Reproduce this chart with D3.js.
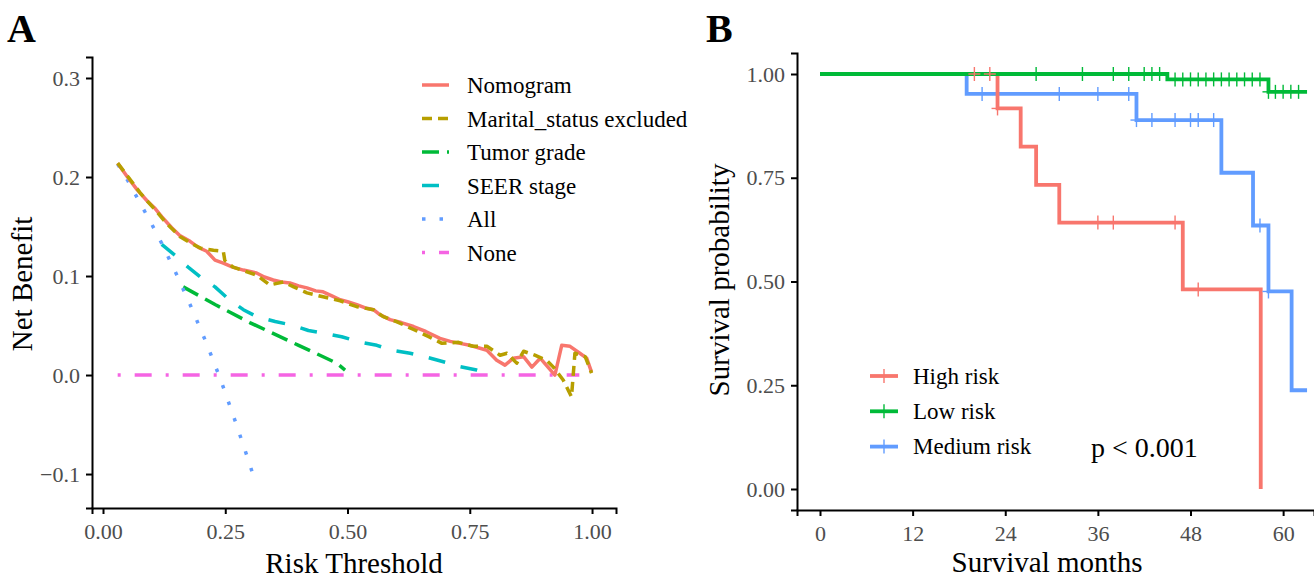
<!DOCTYPE html>
<html>
<head>
<meta charset="utf-8">
<script src="https://cdn.jsdelivr.net/npm/d3@7"></script>
<style>
  body { margin: 0; background: #fff; }
  svg { font-family: "Liberation Serif", "Times New Roman", serif; }
  .axis path, .axis line { stroke: #000; stroke-width: 2; }
  .axis text { fill: #4d4d4d; font-size: 22px; font-family: "Liberation Serif", serif; }
</style>
</head>
<body>
<svg width="1314" height="578"></svg>
<script>
// ---- panel A: decision curves (threshold, net benefit) ----
var nomogram = [[0.03,0.214],[0.05,0.200],[0.07,0.187],[0.09,0.176],[0.105,0.169],[0.11,0.166],[0.12,0.160],[0.14,0.149],
  [0.157,0.141],[0.178,0.135],[0.195,0.129],[0.212,0.125],[0.229,0.116],[0.246,0.113],[0.265,0.109],[0.287,0.106],
  [0.314,0.103],[0.33,0.099],[0.348,0.096],[0.365,0.094],[0.382,0.093],[0.40,0.090],[0.417,0.088],[0.435,0.085],
  [0.45,0.084],[0.468,0.080],[0.485,0.076],[0.50,0.074],[0.519,0.071],[0.535,0.068],[0.553,0.066],[0.566,0.061],
  [0.587,0.056],[0.61,0.053],[0.635,0.049],[0.66,0.044],[0.689,0.037],[0.71,0.034],[0.73,0.032],[0.75,0.030],
  [0.771,0.027],[0.785,0.025],[0.805,0.015],[0.822,0.010],[0.839,0.017],[0.86,0.0185],[0.877,0.008],[0.894,0.017],
  [0.924,0.0],[0.938,0.030],[0.955,0.029],[0.975,0.022],[0.989,0.017],[0.999,0.003]];
var maritalExcluded = [[0.03,0.214],[0.05,0.201],[0.076,0.184],[0.09,0.176],[0.11,0.165],[0.13,0.153],[0.157,0.140],
  [0.18,0.133],[0.2,0.128],[0.226,0.126],[0.246,0.125],[0.249,0.116],[0.266,0.109],[0.29,0.105],[0.314,0.101],
  [0.341,0.091],[0.369,0.094],[0.39,0.089],[0.417,0.083],[0.45,0.079],[0.485,0.075],[0.519,0.069],[0.553,0.066],
  [0.573,0.059],[0.6,0.054],[0.635,0.046],[0.665,0.039],[0.693,0.032],[0.727,0.033],[0.757,0.029],[0.785,0.029],
  [0.812,0.020],[0.826,0.022],[0.846,0.012],[0.86,0.024],[0.883,0.020],[0.907,0.015],[0.921,0.008],[0.941,-0.005],
  [0.958,-0.022],[0.965,0.022],[0.986,0.0185],[0.999,0.002]];
var tumorGrade = [[0.164,0.089],[0.23,0.071],[0.30,0.053],[0.40,0.030],[0.478,0.012],[0.495,0.005]];
var seerStage = [[0.12,0.132],[0.147,0.121],[0.174,0.109],[0.202,0.098],[0.229,0.089],[0.256,0.077],[0.287,0.066],
  [0.314,0.059],[0.352,0.054],[0.386,0.0505],[0.42,0.045],[0.454,0.042],[0.488,0.0387],[0.522,0.0337],[0.56,0.030],
  [0.59,0.025],[0.628,0.022],[0.658,0.0185],[0.696,0.0134],[0.73,0.0084],[0.764,0.005],[0.781,0.002]];
var treatAll = [[0.03,0.213],[0.05,0.197],[0.08,0.170],[0.10,0.152],[0.12,0.133],[0.15,0.102],[0.18,0.069],
  [0.21,0.034],[0.24,-0.004],[0.27,-0.046],[0.30,-0.090],[0.31,-0.106]];
var treatNone = [[0.03,0],[0.974,0]];

var dcaNames = ["Nomogram", "Marital_status excluded", "Tumor grade", "SEER stage", "All", "None"];
var dcaColors = ["#F8766D", "#B79F00", "#00BA38", "#00BFC4", "#619CFF", "#F564E3"];
var dcaDashes = [null, "10,6", "17,8", "17,16", "3.5,14", "3,14,17,14"];
var thresholdTicks = [0, 0.25, 0.5, 0.75, 1];
var benefitTicks = [-0.1, 0, 0.1, 0.2, 0.3];

// ---- panel B: Kaplan-Meier (month, survival) ----
var highRisk = [[0,1],[23,0.917],[26,0.825],[28,0.733],[31,0.642],[47,0.481],[57.1,0]];
var lowRisk = [[0,1],[45,0.987],[58.1,0.957],[63.1,0.957]];
var mediumRisk = [[0,1],[19,0.952],[41,0.889],[52,0.762],[56.1,0.635],[58.1,0.476],[61.1,0.238],[63.1,0.238]];
var highCensor = [20, 22, 23, 36, 38, 46, 49];
var lowCensor = [28, 34, 38, 40, 42, 43, 44, 46, 47, 48, 49, 50, 51, 52, 53, 54, 55, 56, 57, 58.1, 59, 60, 61, 62];
var mediumCensor = [21, 31, 36, 40, 41, 43, 46, 48, 49, 51, 57, 58.1];
var kmNames = ["High risk", "Low risk", "Medium risk"];
var kmColors = ["#F8766D", "#00BA38", "#619CFF"];
var monthTicks = [0, 12, 24, 36, 48, 60];
var survTicks = [0, 0.25, 0.5, 0.75, 1];

var svg = d3.select("svg");
svg.append("rect").attr("width", 1314).attr("height", 578).attr("fill", "#fff");

// panel letters
svg.append("text").attr("x", 7).attr("y", 42).text("A")
  .attr("font-size", 40).attr("font-weight", "bold");
svg.append("text").attr("x", 706).attr("y", 42).text("B")
  .attr("font-size", 40).attr("font-weight", "bold");

var drawDCA = function () {
    let x = d3.scaleLinear().domain([-0.0225, 1.049]).range([92, 616]);
    let y = d3.scaleLinear().domain([-0.1343, 0.3212]).range([508, 57]);

    let xAxis = d3.axisBottom(x).tickValues(thresholdTicks).tickFormat(d3.format(".2f"))
        .tickSizeOuter(0).tickSize(6).tickPadding(9);
    svg.append("g").attr("class", "axis").attr("transform", "translate(0,508)").call(xAxis);
    let yAxis = d3.axisLeft(y).tickValues(benefitTicks).tickFormat(d3.format(".1f"))
        .tickSizeOuter(0).tickSize(6).tickPadding(6);
    svg.append("g").attr("class", "axis").attr("transform", "translate(92,0)").call(yAxis);

    let line = d3.line().x(function (d) { return x(d[0]); }).y(function (d) { return y(d[1]); });
    let series = [nomogram, maritalExcluded, tumorGrade, seerStage, treatAll, treatNone];
    // draw None first, Nomogram under Marital
    let order = [5, 3, 2, 4, 0, 1];
    order.forEach(function (i) {
        svg.append("path")
            .datum(series[i])
            .attr("fill", "none")
            .attr("stroke", dcaColors[i])
            .attr("stroke-width", 3.5)
            .attr("stroke-dasharray", dcaDashes[i])
            .attr("stroke-linejoin", "round")
            .attr("d", line);
    });

    // legend
    let lg = svg.append("g").attr("transform", "translate(422,85)");
    dcaNames.forEach(function (name, i) {
        let row = lg.append("g").attr("transform", "translate(0," + (i * 33.5) + ")");
        row.append("line").attr("x1", 0).attr("x2", 27).attr("y1", 0).attr("y2", 0)
            .attr("stroke", dcaColors[i]).attr("stroke-width", 3.5)
            .attr("stroke-dasharray", dcaDashes[i]);
        row.append("text").attr("x", 45).attr("y", 8).text(name).attr("font-size", 23);
    });

    svg.append("text").text("Risk Threshold").attr("text-anchor", "middle")
        .attr("x", 354).attr("y", 573).attr("font-size", 29);
    svg.append("text").text("Net Benefit").attr("text-anchor", "middle")
        .attr("transform", "translate(32,284)rotate(-90)").attr("font-size", 29);
};

var drawKM = function () {
    let x = d3.scaleLinear().domain([-2.98, 64.0]).range([797, 1314]);
    let y = d3.scaleLinear().domain([-0.0506, 1.0506]).range([510, 53]);

    let xAxis = d3.axisBottom(x).tickValues(monthTicks).tickSizeOuter(0).tickSize(6).tickPadding(9);
    svg.append("g").attr("class", "axis").attr("transform", "translate(0,510)").call(xAxis);
    let yAxis = d3.axisLeft(y).tickValues(survTicks).tickFormat(d3.format(".2f"))
        .tickSizeOuter(0).tickSize(6).tickPadding(6);
    svg.append("g").attr("class", "axis").attr("transform", "translate(797,0)").call(yAxis);

    let line = d3.line().curve(d3.curveStepAfter)
        .x(function (d) { return x(d[0]); }).y(function (d) { return y(d[1]); });
    let survAt = function (steps, t) {
        let s = steps[0][1];
        steps.forEach(function (p) { if (p[0] <= t) s = p[1]; });
        return s;
    };
    let curves = [highRisk, lowRisk, mediumRisk];
    let censors = [highCensor, lowCensor, mediumCensor];
    [2, 0, 1].forEach(function (i) {
        svg.append("path").datum(curves[i])
            .attr("fill", "none").attr("stroke", kmColors[i])
            .attr("stroke-width", 3.8).attr("d", line);
    });
    [2, 0, 1].forEach(function (i) {
        let g = svg.append("g");
        censors[i].forEach(function (t) {
            let cx = x(t), cy = y(survAt(curves[i], t));
            g.append("line").attr("x1", cx).attr("x2", cx).attr("y1", cy - 7).attr("y2", cy + 7)
                .attr("stroke", kmColors[i]).attr("stroke-width", 1.4);
            g.append("line").attr("x1", cx - 6).attr("x2", cx + 6).attr("y1", cy).attr("y2", cy)
                .attr("stroke", kmColors[i]).attr("stroke-width", 1.4);
        });
    });

    // legend
    let lg = svg.append("g").attr("transform", "translate(870,376)");
    kmNames.forEach(function (name, i) {
        let row = lg.append("g").attr("transform", "translate(0," + (i * 35.3) + ")");
        row.append("line").attr("x1", 0).attr("x2", 28).attr("y1", 0).attr("y2", 0)
            .attr("stroke", kmColors[i]).attr("stroke-width", 3.8);
        row.append("line").attr("x1", 14).attr("x2", 14).attr("y1", -7).attr("y2", 7)
            .attr("stroke", kmColors[i]).attr("stroke-width", 1.4);
        row.append("text").attr("x", 43).attr("y", 7.5).text(name).attr("font-size", 23);
    });
    svg.append("text").text("p < 0.001").attr("x", 1091).attr("y", 457).attr("font-size", 28);

    svg.append("text").text("Survival months").attr("text-anchor", "middle")
        .attr("x", 1047).attr("y", 572).attr("font-size", 29);
    svg.append("text").text("Survival probability").attr("text-anchor", "middle")
        .attr("transform", "translate(729,280)rotate(-90)").attr("font-size", 29);
};

drawDCA();
drawKM();
</script>
</body>
</html>
